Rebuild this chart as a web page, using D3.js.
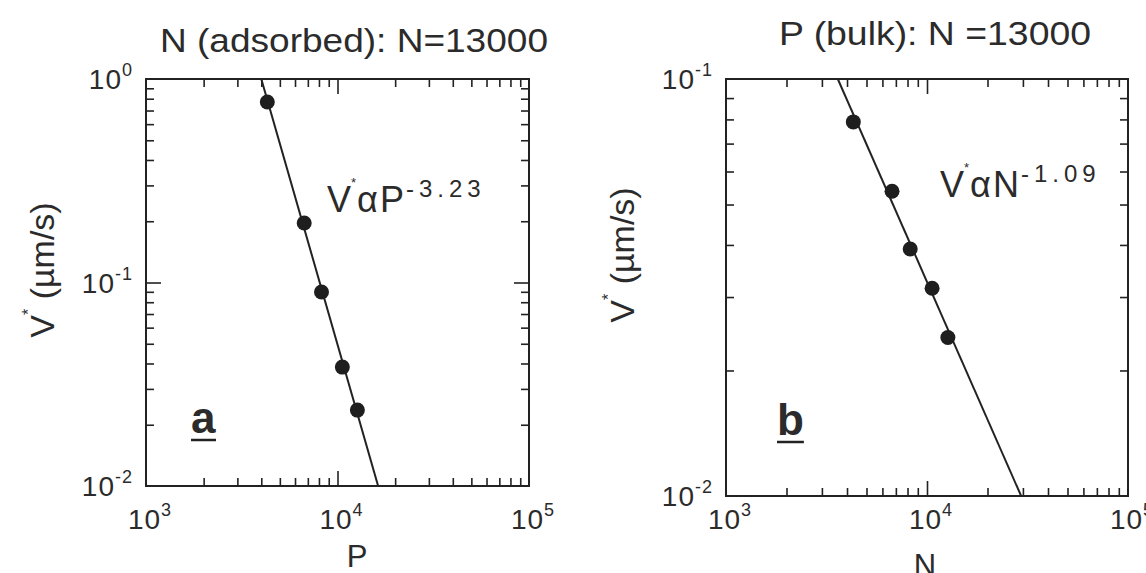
<!DOCTYPE html>
<html><head><meta charset="utf-8">
<script src="https://cdn.jsdelivr.net/npm/d3@7"></script>
<style>
body{margin:0;background:#fff}
svg{display:block}
text{font-family:"Liberation Sans",Arial,Helvetica,sans-serif;fill:#2b2b2b}
</style>
</head><body>
<svg id="chart" width="1146" height="573"></svg>
<script>
// ---- data ----
const chainLengths = [4300, 6700, 8250, 10600, 12700];           // P (panel a) and N (panel b)
const velocityAdsorbed = [0.771, 0.196, 0.0898, 0.0384, 0.0236]; // panel a, V* (µm/s)
const velocityBulk = [0.0789, 0.0538, 0.0391, 0.0315, 0.0240];   // panel b, V* (µm/s)
const fitAdsorbedEnds = [[4000, 1.0], [16300, 0.01]];            // V* ∝ P^-3.23
const fitBulkEnds = [[3600, 0.1], [29400, 0.01]];                // V* ∝ N^-1.09
const xTickLabels = [[1e3, "3"], [1e4, "4"], [1e5, "5"]];
const yTickLabelsA = [[1, "0"], [0.1, "-1"], [0.01, "-2"]];
const yTickLabelsB = [[0.1, "-1"], [0.01, "-2"]];
const titles = ["N (adsorbed): N=13000", "P (bulk): N =13000"];
const xTitles = ["P", "N"];
const exponents = ["-3.23", "-1.09"];
const panelLetters = ["a", "b"];

const svg = d3.select("#chart");
const ink = "#222";

function supText(g, x, y, base, sup, opts) {
  const t = g.append("text").attr("x", x).attr("y", y)
    .attr("text-anchor", opts.anchor || "middle")
    .style("font-size", opts.size + "px");
  if (opts.ls) t.style("letter-spacing", opts.ls + "px");
  t.append("tspan").text(base);
  t.append("tspan").attr("dy", -opts.raise).style("font-size", opts.supSize + "px").text(sup);
  return t;
}

function panel(cfg) {
  const g = svg.append("g");
  const x = d3.scaleLog().domain([1e3, 1e5]).range([cfg.left, cfg.right]);
  const y = d3.scaleLog().domain(cfg.yDomain).range([cfg.bottom, cfg.top]);
  const W = cfg.right - cfg.left, H = cfg.bottom - cfg.top;

  const isMinor = v => Math.abs(Math.log10(v) - Math.round(Math.log10(v))) > 1e-6;
  const xMinor = x.ticks().filter(isMinor);
  const xMajor = [1e4];
  const yMinor = y.ticks().filter(isMinor);
  const yMajor = cfg.yMajor;

  function ax(axisFn, scale, vals, len, tr) {
    const a = g.append("g").attr("transform", tr)
      .call(axisFn(scale).tickValues(vals).tickSize(-len).tickSizeOuter(0).tickFormat(""));
    a.select(".domain").remove();
    a.selectAll("line").attr("stroke", ink).attr("stroke-width", 1.6);
  }
  [[xMinor, 8], [xMajor, 15]].forEach(([v, l]) => {
    ax(d3.axisBottom, x, v, l, `translate(0,${cfg.bottom})`);
    ax(d3.axisTop, x, v, l, `translate(0,${cfg.top})`);
  });
  [[yMinor, 8], [yMajor, 15]].forEach(([v, l]) => {
    ax(d3.axisLeft, y, v, l, `translate(${cfg.left},0)`);
    ax(d3.axisRight, y, v, l, `translate(${cfg.right},0)`);
  });

  g.append("rect").attr("x", cfg.left).attr("y", cfg.top).attr("width", W).attr("height", H)
    .attr("fill", "none").attr("stroke", ink).attr("stroke-width", 2);

  const clipId = "clip" + cfg.idx;
  svg.append("clipPath").attr("id", clipId).append("rect")
    .attr("x", cfg.left).attr("y", cfg.top).attr("width", W).attr("height", H);

  g.append("path").datum(cfg.fit)
    .attr("clip-path", `url(#${clipId})`)
    .attr("d", d3.line().x(d => x(d[0])).y(d => y(d[1])))
    .attr("fill", "none").attr("stroke", ink).attr("stroke-width", 2);

  g.selectAll("circle.pt").data(chainLengths.map((c, i) => [c, cfg.values[i]]))
    .join("circle").attr("class", "pt")
    .attr("cx", d => x(d[0])).attr("cy", d => y(d[1])).attr("r", 7.5)
    .attr("fill", "#1e1e1e");

  // tick labels
  xTickLabels.forEach(([v, e]) => supText(g, x(v) + 4, cfg.xLabelY, "10", e,
    {size: 28, supSize: 18, raise: 13, ls: 1}));
  cfg.yLabels.forEach(([v, e]) => supText(g, cfg.left - 13, y(v) + 10, "10", e,
    {size: 28, supSize: 18, raise: 13, anchor: "end", ls: 1}));

  // title
  g.append("text").attr("x", cfg.titleX).attr("y", cfg.titleY).attr("text-anchor", "middle")
    .style("font-size", "33px").attr("textLength", cfg.titleLen).attr("lengthAdjust", "spacingAndGlyphs")
    .text(titles[cfg.idx]);

  // x title
  g.append("text").attr("x", cfg.xTitleX).attr("y", cfg.xTitleY).attr("text-anchor", "middle")
    .style("font-size", "31px").text(xTitles[cfg.idx]);

  // y title
  const yt = g.append("text").attr("transform", `translate(${cfg.yTitleX},${cfg.yTitleY}) rotate(-90)`)
    .attr("text-anchor", "middle").style("font-size", "34px");
  yt.append("tspan").text("V");
  yt.append("tspan").attr("dy", -20).style("font-size", "16px").text("*");
  yt.append("tspan").attr("dy", 20).text(" (µm/s)");

  // annotation
  const an = g.append("text").attr("x", cfg.annX).attr("y", cfg.annY).style("font-size", "36px");
  an.append("tspan").text("V");
  an.append("tspan").attr("dy", -25).attr("dx", 0).style("font-size", "13px").text("*");
  an.append("tspan").attr("dy", 25).attr("dx", 1).text("α");
  an.append("tspan").attr("dx", 2).text(xTitles[cfg.idx]);
  an.append("tspan").attr("dy", -15).attr("dx", 2).style("font-size", "24px")
    .style("letter-spacing", "5px").text(exponents[cfg.idx]);

  // panel letter
  const pl = g.append("text").attr("x", cfg.letterX).attr("y", cfg.letterY)
    .style("font-size", "44px").style("font-weight", "bold").attr("fill", ink)
    .text(panelLetters[cfg.idx]);
  const bb = pl.node().getBBox();
  g.append("line").attr("x1", bb.x).attr("x2", bb.x + bb.width)
    .attr("y1", cfg.letterY + 7).attr("y2", cfg.letterY + 7)
    .attr("stroke", ink).attr("stroke-width", 2.5);
}

panel({idx: 0, left: 146, right: 529, top: 79, bottom: 486, yDomain: [0.01, 1], yMajor: [0.1],
  fit: fitAdsorbedEnds, values: velocityAdsorbed, yLabels: yTickLabelsA, xLabelY: 529,
  titleX: 354, titleY: 52, titleLen: 388, xTitleX: 357, xTitleY: 567, yTitleX: 54, yTitleY: 270,
  annX: 327, annY: 212, letterX: 191, letterY: 433});
panel({idx: 1, left: 726, right: 1128, top: 79, bottom: 496, yDomain: [0.01, 0.1], yMajor: [],
  fit: fitBulkEnds, values: velocityBulk, yLabels: yTickLabelsB, xLabelY: 529,
  titleX: 935, titleY: 45, titleLen: 312, xTitleX: 925, xTitleY: 576, yTitleX: 634, yTitleY: 255,
  annX: 940, annY: 197, letterX: 777, letterY: 435});
</script>
</body></html>
